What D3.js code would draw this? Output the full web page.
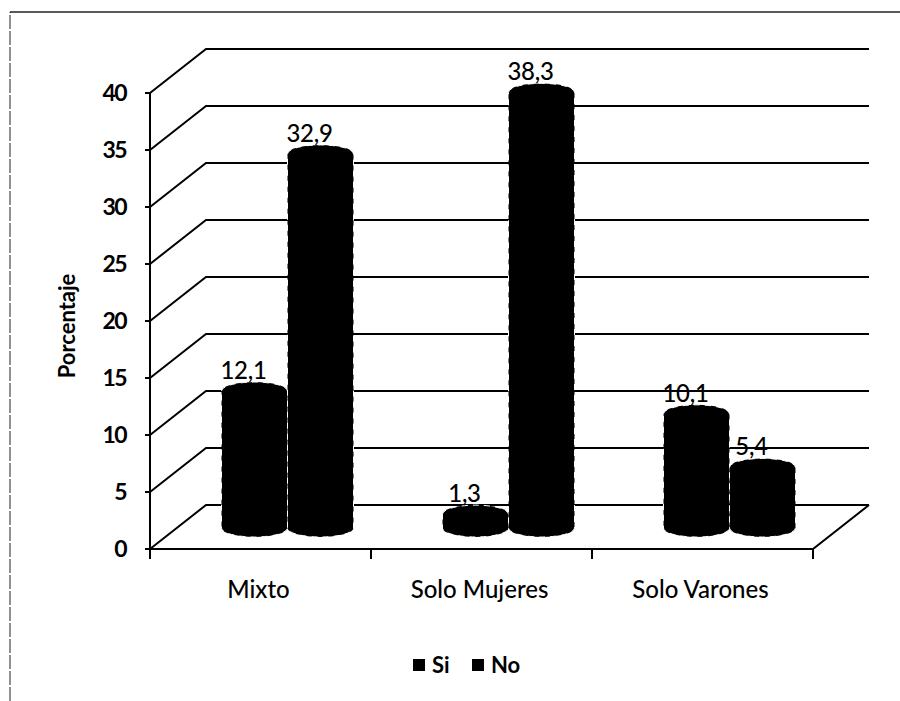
<!DOCTYPE html>
<html><head><meta charset="utf-8">
<script src="https://cdn.jsdelivr.net/npm/d3@7"></script>
<style>html,body{margin:0;padding:0;background:#fff}svg{display:block}text{font-family:Lato,"Open Sans",sans-serif;fill:#000}</style>
</head><body><svg id="c" width="900" height="701"></svg>
<script>
const categories = ["Mixto","Solo Mujeres","Solo Varones"];
const seriesNames = ["Si","No"];
const valuesSi = [12.1,1.3,10.1];
const valuesNo = [32.9,38.3,5.4];
const labelsSi = ["12,1","1,3","10,1"];
const labelsNo = ["32,9","38,3","5,4"];
const yTicks = [0,5,10,15,20,25,30,35,40];

const svg = d3.select("#c");
const depthX = 56, depthY = 44;
const x0 = d3.scaleBand().domain(categories).range([150,813]);
const x1 = d3.scaleBand().domain(seriesNames).range([x0.bandwidth()/2-66, x0.bandwidth()/2+66]);
const y = d3.scaleLinear().domain([0,40]).range([549,93]);
const barShiftX = 27, barShiftY = -21, ry = 9;

// frame
const frame = svg.append("g").attr("fill","none").attr("stroke","#222");
frame.append("path").attr("d","M10,701V12").attr("stroke-width",1).attr("stroke-dasharray","14 2");
frame.append("path").attr("d","M10,12H900").attr("stroke-width",1.6);

// walls and grid
const grid = svg.append("g").attr("fill","none").attr("stroke","#000").attr("stroke-width",2);
yTicks.forEach(t=>{
  const yy=y(t);
  grid.append("path").attr("d",`M${x0.range()[0]},${yy}L${x0.range()[0]+depthX},${yy-depthY}H${x0.range()[1]+depthX}`);
  grid.append("line").attr("x1",x0.range()[0]-5).attr("x2",x0.range()[0]).attr("y1",yy).attr("y2",yy);
});
grid.append("line").attr("x1",150).attr("x2",150).attr("y1",y(40)).attr("y2",y(0));
grid.append("path").attr("d",`M${x0.range()[0]},${y(0)}H${x0.range()[1]}L${x0.range()[1]+depthX},${y(0)-depthY}`);
const ticksX=[...categories.map(c=>x0(c)),x0.range()[1]];
ticksX.forEach(t=>grid.append("line").attr("x1",t).attr("x2",t).attr("y1",y(0)).attr("y2",y(0)+10));

// cylinders
const rows=[];
categories.forEach((c,i)=>{
  rows.push({c,s:"Si",v:valuesSi[i],l:labelsSi[i]});
  rows.push({c,s:"No",v:valuesNo[i],l:labelsNo[i]});
});
const cyl=svg.append("g");
const labelShift=-11;
rows.forEach(d=>{
  const l=x0(d.c)+x1(d.s)+barShiftX, w=x1.bandwidth(), r=l+w, rx=w/2;
  const top=y(d.v)+barShiftY+1, bot=y(0)+barShiftY;
  cyl.append("path")
    .attr("d",`M${l},${top}A${rx},${ry} 0 0 1 ${r},${top}V${bot}A${rx},${ry} 0 0 1 ${l},${bot}Z`)
    .attr("fill","#000").attr("stroke","#fff").attr("stroke-width",1).attr("stroke-dasharray","6 5");
  svg.append("text").attr("x",l+rx+labelShift).attr("y",top-ry-3).attr("text-anchor","middle")
    .attr("font-size",24).attr("font-weight",500).attr("letter-spacing",-0.3).text(d.l);
});

// y labels
svg.append("g").selectAll("text").data(yTicks).join("text")
  .attr("x",126).attr("y",d=>y(d)+8).attr("text-anchor","end")
  .attr("font-size",23).attr("font-weight",700).attr("letter-spacing",-1.6).text(d=>d);
svg.append("text").attr("transform","translate(75,326) rotate(-90)").attr("text-anchor","middle")
  .attr("font-size",22).attr("font-weight",700).text("Porcentaje");

// category labels
svg.append("g").selectAll("text").data(categories).join("text")
  .attr("x",c=>x0(c)+x0.bandwidth()/2-2).attr("y",598).attr("text-anchor","middle")
  .attr("font-size",24).attr("font-weight",500).text(c=>c);

// legend
const legend=svg.append("g");
seriesNames.forEach((s,i)=>{
  const lx=413+i*59;
  legend.append("rect").attr("x",lx).attr("y",659).attr("width",12).attr("height",12).attr("fill","#000");
  legend.append("text").attr("x",lx+19).attr("y",673).attr("font-size",22).attr("font-weight",700).text(s);
});
</script></body></html>
